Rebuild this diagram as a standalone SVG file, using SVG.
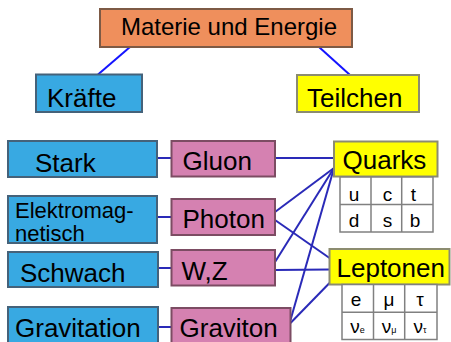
<svg xmlns="http://www.w3.org/2000/svg" width="451" height="342" viewBox="0 0 451 342">
  <style>
    text { font-family: "Liberation Sans", Arial, sans-serif; fill: #000; }
    .lbl { font-size: 26px; }
    .small { font-size: 22px; }
    .cell { font-size: 19px; text-anchor: middle; }
    .sub { font-size: 9px; }
    .orange { fill: #ef8f5c; stroke: #7d5a45; stroke-width: 2; }
    .blue { fill: #38a9e2; stroke: #45627a; stroke-width: 2; }
    .yellow { fill: #ffff00; stroke: #8c8c70; stroke-width: 2; }
    .pink { fill: #d581b1; stroke: #7c4c63; stroke-width: 2; }
    .grid { fill: #ffffff; stroke: #808080; stroke-width: 1.5; }
    .link { stroke: #2a2ab8; stroke-width: 2; fill: none; }
    .top { stroke: #1414ff; }
  </style>

  <!-- connectors -->
  <g id="connectors">
    <line class="link top" x1="130" y1="47" x2="98" y2="74.5"/>
    <line class="link top" x1="319" y1="47" x2="350" y2="75"/>
    <line class="link" x1="157" y1="158" x2="171.5" y2="158"/>
    <line class="link" x1="157" y1="217" x2="171.5" y2="217"/>
    <line class="link" x1="158" y1="268" x2="171.5" y2="268"/>
    <line class="link" x1="158" y1="327" x2="171.5" y2="327"/>
    <line class="link" x1="275" y1="158" x2="334" y2="158"/>
    <line class="link" x1="275" y1="212" x2="334" y2="168"/>
    <line class="link" x1="275" y1="262" x2="334" y2="168"/>
    <line class="link" x1="290.5" y1="320" x2="334" y2="168"/>
    <line class="link" x1="275" y1="220" x2="329.5" y2="258"/>
    <line class="link" x1="275" y1="270" x2="329.5" y2="269.5"/>
    <line class="link" x1="290.5" y1="323" x2="329.5" y2="283"/>
  </g>

  <g id="materie">
    <rect class="orange" x="100" y="9" width="252" height="38"/>
    <text x="229" y="35" font-size="24" text-anchor="middle">Materie und Energie</text>
  </g>

  <g id="kraefte">
    <rect class="blue" x="36" y="74.5" width="106" height="37.5"/>
    <text class="lbl" x="47" y="106.5">Kräfte</text>
  </g>

  <g id="teilchen">
    <rect class="yellow" x="297" y="75" width="122" height="37"/>
    <text class="lbl" x="307" y="106.5">Teilchen</text>
  </g>

  <g id="stark">
    <rect class="blue" x="8" y="141" width="149" height="36"/>
    <text class="lbl" x="35" y="171.5">Stark</text>
  </g>

  <g id="elektromagnetisch">
    <rect class="blue" x="8" y="196" width="149" height="47"/>
    <text class="small" x="15" y="218">Elektromag-</text>
    <text class="small" x="15" y="241">netisch</text>
  </g>

  <g id="schwach">
    <rect class="blue" x="8" y="252" width="150" height="35"/>
    <text class="lbl" x="20" y="281.5">Schwach</text>
  </g>

  <g id="gravitation">
    <rect class="blue" x="8" y="307" width="150" height="40"/>
    <text class="lbl" x="15" y="336.5">Gravitation</text>
  </g>

  <g id="gluon">
    <rect class="pink" x="171.5" y="141" width="103.5" height="35.5"/>
    <text class="lbl" x="182.5" y="170">Gluon</text>
  </g>

  <g id="photon">
    <rect class="pink" x="171.5" y="199" width="103.5" height="36"/>
    <text class="lbl" x="182.5" y="228">Photon</text>
  </g>

  <g id="wz">
    <rect class="pink" x="171.5" y="250" width="103.5" height="35.5"/>
    <text class="lbl" x="181.5" y="280">W,Z</text>
  </g>

  <g id="graviton">
    <rect class="pink" x="171.5" y="308" width="119" height="40"/>
    <text class="lbl" x="179.5" y="336.5">Graviton</text>
  </g>

  <g id="quarks">
    <rect class="yellow" x="334" y="141.5" width="103.5" height="35"/>
    <text class="lbl" x="342.5" y="169">Quarks</text>
    <rect class="grid" x="340" y="177" width="93" height="55"/>
    <line class="grid" x1="340" y1="204.5" x2="433" y2="204.5"/>
    <line class="grid" x1="371" y1="177" x2="371" y2="232"/>
    <line class="grid" x1="401.7" y1="177" x2="401.7" y2="232"/>
    <text class="cell" x="354" y="200.5">u</text>
    <text class="cell" x="387.5" y="200.5">c</text>
    <text class="cell" x="413.5" y="200.5">t</text>
    <text class="cell" x="354" y="227">d</text>
    <text class="cell" x="387.5" y="227">s</text>
    <text class="cell" x="415" y="227">b</text>
  </g>

  <g id="leptonen">
    <rect class="yellow" x="329.5" y="249" width="120" height="35.5"/>
    <text class="lbl" x="336.5" y="276.5">Leptonen</text>
    <rect class="grid" x="342" y="284.5" width="95" height="55"/>
    <line class="grid" x1="342" y1="312.3" x2="437" y2="312.3"/>
    <line class="grid" x1="373.5" y1="284.5" x2="373.5" y2="339.5"/>
    <line class="grid" x1="404.7" y1="284.5" x2="404.7" y2="339.5"/>
    <text class="cell" x="356" y="306">e</text>
    <text class="cell" x="389" y="306">μ</text>
    <text class="cell" x="420" y="306">τ</text>
    <text class="cell" x="357.5" y="333">ν<tspan class="sub">e</tspan></text>
    <text class="cell" x="389" y="333">ν<tspan class="sub">μ</tspan></text>
    <text class="cell" x="420" y="333">ν<tspan class="sub">τ</tspan></text>
  </g>
</svg>
